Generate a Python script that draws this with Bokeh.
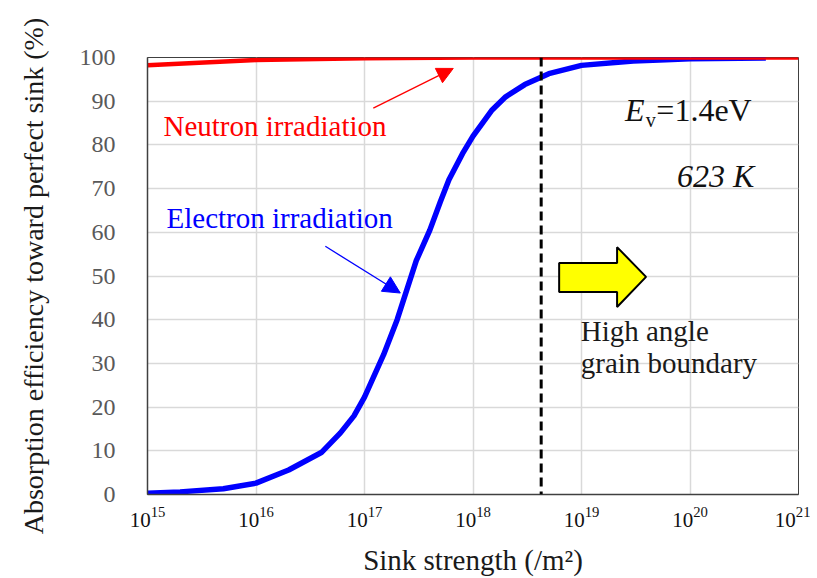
from bokeh.plotting import figure
from bokeh.models import (Range1d, FixedTicker, LogTickFormatter, Span, Arrow,
                          NormalHead, Label)
from bokeh.embed import file_html
from bokeh.resources import INLINE

# ---------------- data ----------------
sink_strength_electron = [1e15, 2e15, 5e15, 1e16, 2e16, 4e16, 6e16, 8e16, 1e17,
                          1.5e17, 2e17, 3e17, 4e17, 5e17, 6e17, 8e17, 1e18,
                          1.5e18, 2e18, 3e18, 5e18, 1e19, 3e19, 6e19, 1e20, 5e20]
efficiency_electron = [0.3, 0.6, 1.3, 2.6, 5.6, 9.6, 14.1, 18.0, 22.3,
                       32.0, 40.0, 53.5, 60.5, 67.0, 72.0, 78.0, 82.0,
                       88.0, 91.0, 93.8, 96.3, 98.2, 99.2, 99.5, 99.7, 99.9]

sink_strength_neutron = [1e15, 1e16, 1e17, 1e18, 1e19, 1e20, 1e21]
efficiency_neutron = [98.2, 99.4, 99.8, 100.0, 100.0, 100.0, 100.0]

x_ticks = [1e15, 1e16, 1e17, 1e18, 1e19, 1e20, 1e21]
y_ticks = [0, 10, 20, 30, 40, 50, 60, 70, 80, 90, 100]

grain_boundary_strength = 4.25e18

SERIF = "Liberation Serif"

# ---------------- figure ----------------
p = figure(width=810, height=578, x_axis_type="log",
           x_range=Range1d(1e15, 1e21), y_range=Range1d(0, 100),
           output_backend="svg", toolbar_location=None,
           min_border_left=147, min_border_right=12,
           min_border_top=57, min_border_bottom=83)
p.background_fill_color = "white"
p.border_fill_color = "white"
p.outline_line_color = "#404040"
p.outline_line_width = 1

# axes
p.xaxis.ticker = FixedTicker(ticks=x_ticks)
p.xaxis.formatter = LogTickFormatter()
p.yaxis.ticker = FixedTicker(ticks=y_ticks)
for ax in (p.xaxis[0], p.yaxis[0]):
    ax.major_tick_out = 0
    ax.major_tick_in = 0
    ax.minor_tick_out = 0
    ax.minor_tick_in = 0
    ax.axis_line_color = "#404040"
    ax.axis_line_width = 1.5
    ax.major_label_text_font = SERIF
    ax.axis_label_text_font = SERIF
    ax.axis_label_text_font_style = "normal"
    ax.axis_label_text_color = "#1a1a1a"

p.xaxis.major_label_text_font_size = "21px"
p.xaxis.major_label_text_color = "#111111"
p.xaxis.major_label_standoff = 12
p.xaxis.axis_label = "Sink strength (/m²)"
p.xaxis.axis_label_text_font_size = "29px"
p.xaxis.axis_label_standoff = 14

p.yaxis.major_label_text_font_size = "24px"
p.yaxis.major_label_text_color = "#595959"
p.yaxis.major_label_standoff = 32
p.yaxis.axis_label = "Absorption efficiency toward perfect sink (%)"
p.yaxis.axis_label_text_font_size = "28px"
p.yaxis.axis_label_standoff = 28

# grid
p.xgrid.ticker = FixedTicker(ticks=x_ticks)
p.ygrid.ticker = FixedTicker(ticks=y_ticks)
p.xgrid.grid_line_color = "#d9d9d9"
p.ygrid.grid_line_color = "#d9d9d9"
p.xgrid.grid_line_width = 1.5
p.ygrid.grid_line_width = 1.5

# data lines
p.line(sink_strength_electron, efficiency_electron, line_color="#0000FF",
       line_width=5.5)
p.line(sink_strength_neutron, efficiency_neutron, line_color="#FF0000",
       line_width=4.5)

# dashed grain boundary line
p.add_layout(Span(location=grain_boundary_strength, dimension="height",
                  line_color="black", line_width=3, line_dash="9 5"))

# yellow arrow (annotation shape)
ax_l, ax_m, ax_t = 10**18.794, 10**19.328, 10**19.595
p.patch([ax_l, ax_m, ax_m, ax_t, ax_m, ax_m, ax_l],
        [53.0, 53.0, 56.6, 49.8, 42.9, 46.35, 46.35],
        fill_color="#FFFF00", line_color="black", line_width=2)

# annotation arrows
p.add_layout(Arrow(end=NormalHead(size=16, fill_color="#FF0000",
                                  line_color="#FF0000"),
                   x_start=10**17.081, y_start=88.4,
                   x_end=10**17.818, y_end=97.5,
                   line_color="#FF0000", line_width=1.3))
p.add_layout(Arrow(end=NormalHead(size=17, fill_color="#0000FF",
                                  line_color="#0000FF"),
                   x_start=10**16.639, y_start=56.8,
                   x_end=10**17.33, y_end=46.1,
                   line_color="#0000FF", line_width=1.3))

def lab(x, y, text, color="#1a1a1a", size="29px", style="normal"):
    p.add_layout(Label(x=x, y=y, text=text, text_color=color,
                       text_font=SERIF, text_font_size=size,
                       text_font_style=style, text_baseline="alphabetic",
                       text_align="left"))

lab(10**15.147, 84.3, "Neutron irradiation", color="#FF0000")
lab(10**15.175, 63.3, "Electron irradiation", color="#0000FF")
lab(10**18.993, 37.3, "High angle")
lab(10**18.993, 30.2, "grain boundary")
lab(10**19.401, 87.9, "E", size="32px", style="italic", color="#111111")
lab(10**19.592, 85.7, "v", size="20px", color="#111111")
lab(10**19.69, 87.9, "=1.4eV", size="32px", color="#111111")
lab(10**19.88, 72.9, "623 K", size="32px", style="italic", color="#111111")

open("out.html", "w").write(file_html(p, INLINE))
